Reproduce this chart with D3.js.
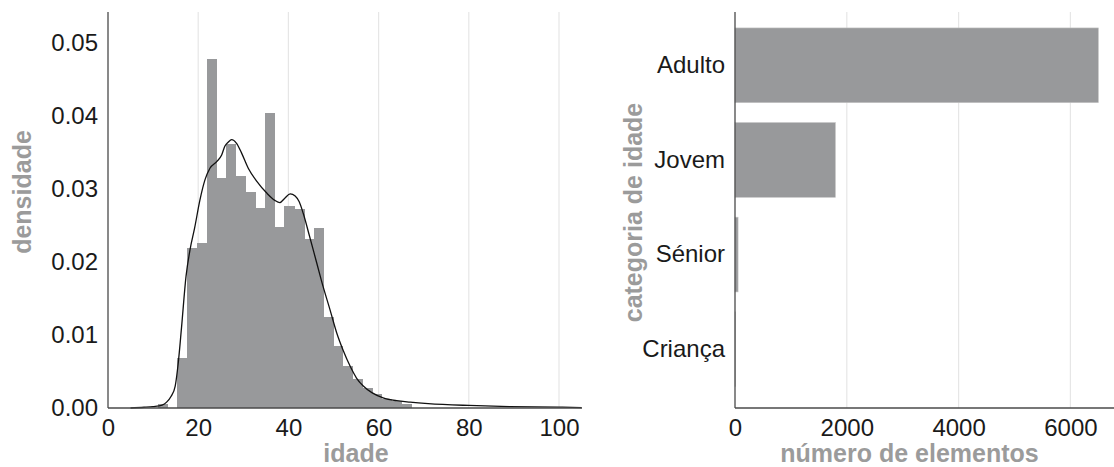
<!DOCTYPE html>
<html>
<head>
<meta charset="utf-8">
<script src="https://cdn.jsdelivr.net/npm/d3@7"></script>
<style>
  body { margin: 0; background: #fff; }
</style>
</head>
<body>
<script>
// histogram of idade (density), bin edges and heights
var binEdges = [11.10, 13.25, 15.41, 17.57, 19.72, 21.88, 24.04, 26.19, 28.35, 30.51, 32.66,
                34.82, 36.98, 39.13, 41.29, 43.45, 45.60, 47.76, 49.92, 52.07, 54.23,
                56.39, 58.54, 60.70, 62.86, 65.01, 67.17];
var binDensity = [0.0006, 0, 0.0068, 0.0219, 0.0226, 0.0477, 0.0315, 0.0361, 0.0317, 0.0296,
                  0.0273, 0.0404, 0.0247, 0.0277, 0.0272, 0.0231, 0.0246, 0.0125, 0.0085,
                  0.0057, 0.0039, 0.0027, 0.0019, 0.0012, 0.0009, 0.0005];

// kde curve
var kdeAge = [5, 8, 10, 12, 13, 14, 14.9, 15.6, 16.3, 17.3, 18.2, 19.2, 20.4, 21.5, 22.6, 24.1,
              25.2, 25.9, 26.7, 27.4, 28.5, 29.6, 31.1, 33, 35.2, 37, 38.1, 39.2, 40.4, 41.5,
              42.4, 43.3, 44.6, 46.3, 47.7, 49.2, 50.7, 52.2, 53.7, 55.1, 56.6, 58.5, 61, 64,
              67, 71, 80, 89, 100, 105];
var kdeDensity = [0, 0.0001, 0.0002, 0.0004, 0.0008, 0.0016, 0.003, 0.0063, 0.011, 0.018, 0.0217,
                  0.0246, 0.0285, 0.0312, 0.0328, 0.0337, 0.0346, 0.0358, 0.0364, 0.0367, 0.0362,
                  0.0349, 0.0328, 0.031, 0.0294, 0.0284, 0.0281, 0.0287, 0.0293, 0.029, 0.0282,
                  0.0266, 0.0237, 0.0198, 0.0166, 0.0135, 0.0103, 0.0078, 0.0057, 0.0041, 0.003,
                  0.0021, 0.0014, 0.001, 0.0008, 0.0006, 0.00035, 0.0002, 0.00012, 0.00005];

var ageTicks = [0, 20, 40, 60, 80, 100];
var densityTicks = [0, 0.01, 0.02, 0.03, 0.04, 0.05];

// bar chart of categoria de idade
var categories = ["Adulto", "Jovem", "Sénior", "Criança"];
var counts = [6500, 1796, 55, 8];
var countTicks = [0, 2000, 4000, 6000];

var width = 1114;
var height = 467;
var barColor = "#98999b";
var gridColor = "#e6e6e6";
var spineColor = "#4a4a4a";
var labelColor = "#9b9b9b";
var tickFont = "'Liberation Sans', Arial, sans-serif";
var labelFont = "'Liberation Sans', Arial, sans-serif";

var svg = d3.select("body").append("svg")
  .attr("width", width)
  .attr("height", height);

var axisTop = 12;
var axisBottom = 408;

// ---------- left: histogram + kde ----------
var x1 = d3.scaleLinear().domain([0, 105.1]).range([108, 582]);
var y1 = d3.scaleLinear().domain([0, 0.05417]).range([axisBottom, axisTop]);

var left = svg.append("g");

left.selectAll("line.grid")
  .data(ageTicks.slice(1))
  .enter().append("line")
    .attr("class", "grid")
    .attr("x1", function(d) { return x1(d); })
    .attr("x2", function(d) { return x1(d); })
    .attr("y1", axisTop)
    .attr("y2", axisBottom)
    .attr("stroke", gridColor)
    .attr("stroke-width", 1.2);

var bins = binDensity.map(function(d, i) {
  return { x0: binEdges[i], x1: binEdges[i + 1], v: d };
});

left.selectAll("rect.bin")
  .data(bins)
  .enter().append("rect")
    .attr("class", "bin")
    .attr("x", function(d) { return x1(d.x0); })
    .attr("width", function(d) { return x1(d.x1) - x1(d.x0) + 0.6; })
    .attr("y", function(d) { return y1(d.v); })
    .attr("height", function(d) { return y1(0) - y1(d.v); })
    .attr("fill", barColor)
    .attr("shape-rendering", "crispEdges");

var kdeLine = d3.line()
  .x(function(d, i) { return x1(kdeAge[i]); })
  .y(function(d) { return y1(d); })
  .curve(d3.curveMonotoneX);

left.append("path")
  .attr("d", kdeLine(kdeDensity))
  .attr("fill", "none")
  .attr("stroke", "#111")
  .attr("stroke-width", 1.3);

var xAxis1 = d3.axisBottom(x1).tickValues(ageTicks).tickSize(0).tickPadding(11);
var gx1 = left.append("g")
  .attr("transform", "translate(0," + axisBottom + ")")
  .call(xAxis1);

var yAxis1 = d3.axisLeft(y1).tickValues(densityTicks).tickFormat(d3.format(".2f")).tickSize(0).tickPadding(10);
var gy1 = left.append("g")
  .attr("transform", "translate(" + 108 + ",0)")
  .call(yAxis1);

left.append("text")
  .attr("x", 356)
  .attr("y", 462)
  .attr("text-anchor", "middle")
  .attr("font-family", labelFont)
  .attr("font-weight", "bold")
  .attr("font-size", 25)
  .attr("fill", labelColor)
  .text("idade");

left.append("text")
  .attr("transform", "translate(22,192) rotate(-90)")
  .attr("text-anchor", "middle")
  .attr("dominant-baseline", "central")
  .attr("font-family", labelFont)
  .attr("font-weight", "bold")
  .attr("font-size", 25)
  .attr("fill", labelColor)
  .text("densidade");

// ---------- right: horizontal bars ----------
var x2 = d3.scaleLinear().domain([0, 6780]).range([735, 1114]);
var y2 = d3.scaleBand().domain(categories).range([18, 396.5]).paddingInner(0.21).paddingOuter(0.105);

var right = svg.append("g");

right.selectAll("line.grid")
  .data(countTicks.slice(1))
  .enter().append("line")
    .attr("class", "grid")
    .attr("x1", function(d) { return x2(d); })
    .attr("x2", function(d) { return x2(d); })
    .attr("y1", axisTop)
    .attr("y2", axisBottom)
    .attr("stroke", gridColor)
    .attr("stroke-width", 1.2);

right.selectAll("rect.bar")
  .data(counts)
  .enter().append("rect")
    .attr("class", "bar")
    .attr("x", x2(0))
    .attr("y", function(d, i) { return y2(categories[i]); })
    .attr("width", function(d) { return x2(d) - x2(0); })
    .attr("height", y2.bandwidth())
    .attr("fill", barColor)
    .attr("stroke", "#c4c4c4")
    .attr("stroke-width", 0.6);

var xAxis2 = d3.axisBottom(x2).tickValues(countTicks).tickFormat(d3.format("d")).tickSize(0).tickPadding(11);
var gx2 = right.append("g")
  .attr("transform", "translate(0," + axisBottom + ")")
  .call(xAxis2);

var yAxis2 = d3.axisLeft(y2).tickSize(0).tickPadding(10);
var gy2 = right.append("g")
  .attr("transform", "translate(" + 735 + ",0)")
  .call(yAxis2);

right.append("text")
  .attr("x", 909.5)
  .attr("y", 462)
  .attr("text-anchor", "middle")
  .attr("font-family", labelFont)
  .attr("font-weight", "bold")
  .attr("font-size", 25)
  .attr("fill", labelColor)
  .text("número de elementos");

right.append("text")
  .attr("transform", "translate(633,212.5) rotate(-90)")
  .attr("text-anchor", "middle")
  .attr("dominant-baseline", "central")
  .attr("font-family", labelFont)
  .attr("font-weight", "bold")
  .attr("font-size", 25)
  .attr("fill", labelColor)
  .text("categoria de idade");

// common axis styling
svg.selectAll(".domain")
  .attr("stroke", spineColor)
  .attr("stroke-width", 1.3);
svg.selectAll(".tick text")
  .attr("font-family", tickFont)
  .attr("font-size", 24)
  .attr("fill", "#1a1a1a");
// y spines start at the top of the axes box
gy1.select(".domain").attr("d", "M0," + axisTop + "V" + axisBottom);
gy2.select(".domain").attr("d", "M0," + axisTop + "V" + axisBottom);
gx1.select(".domain").attr("d", "M" + x1.range()[0] + ",0H" + x1.range()[1]);
gx2.select(".domain").attr("d", "M" + x2.range()[0] + ",0H" + x2.range()[1]);
</script>
</body>
</html>
